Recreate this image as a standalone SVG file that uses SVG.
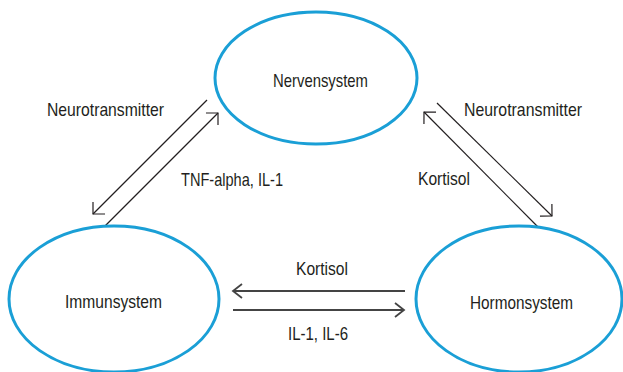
<svg xmlns="http://www.w3.org/2000/svg" width="623" height="372" viewBox="0 0 623 372">
<style>
.node{fill:#fff;stroke:#1a9fd6;stroke-width:3}
.lbl{font-family:"Liberation Sans",Arial,sans-serif;font-size:19px;fill:#231f20}
.diag{stroke:#231f20;stroke-width:1.2;fill:none}
.hor{stroke:#444;stroke-width:1.8;fill:none}
</style>
<defs>
<marker id="ad" markerUnits="userSpaceOnUse" markerWidth="24" markerHeight="24" refX="0" refY="0" viewBox="-12 -12 24 24" orient="auto" overflow="visible">
<path d="M-8.5,-8.5 L0,0 L-8.5,8.5" fill="none" stroke="#231f20" stroke-width="1.2"/>
</marker>
<marker id="ah" markerUnits="userSpaceOnUse" markerWidth="24" markerHeight="24" refX="0" refY="0" viewBox="-12 -12 24 24" orient="auto" overflow="visible">
<path d="M-9,-7 L0,0 L-9,7" fill="none" stroke="#444" stroke-width="1.8"/>
</marker>
</defs>
<g id="connectors">
<line class="diag" x1="207" y1="100" x2="93" y2="214" marker-end="url(#ad)"/>
<line class="diag" x1="105" y1="226" x2="218" y2="113" marker-end="url(#ad)"/>
<line class="diag" x1="437" y1="103" x2="552" y2="216" marker-end="url(#ad)"/>
<line class="diag" x1="538" y1="227" x2="424" y2="112" marker-end="url(#ad)"/>
<line class="hor" x1="405" y1="291" x2="233" y2="291" marker-end="url(#ah)"/>
<line class="hor" x1="233" y1="310" x2="404" y2="310" marker-end="url(#ah)"/>
<text class="lbl" x="47" y="116" textLength="117" lengthAdjust="spacingAndGlyphs">Neurotransmitter</text>
<text class="lbl" x="181" y="186" textLength="102" lengthAdjust="spacingAndGlyphs">TNF-alpha, IL-1</text>
<text class="lbl" x="464" y="116" textLength="118" lengthAdjust="spacingAndGlyphs">Neurotransmitter</text>
<text class="lbl" x="418" y="185" textLength="52" lengthAdjust="spacingAndGlyphs">Kortisol</text>
<text class="lbl" x="296" y="275" textLength="52" lengthAdjust="spacingAndGlyphs">Kortisol</text>
<text class="lbl" x="288" y="340" textLength="60" lengthAdjust="spacingAndGlyphs">IL-1, IL-6</text>
</g>
<g id="nervensystem">
<ellipse class="node" cx="316" cy="78" rx="101" ry="66"/>
<text class="lbl" x="273" y="87" textLength="95" lengthAdjust="spacingAndGlyphs">Nervensystem</text>
</g>
<g id="immunsystem">
<ellipse class="node" cx="114" cy="299" rx="105" ry="73"/>
<text class="lbl" x="65" y="308" textLength="97" lengthAdjust="spacingAndGlyphs">Immunsystem</text>
</g>
<g id="hormonsystem">
<ellipse class="node" cx="519" cy="299" rx="103" ry="73"/>
<text class="lbl" x="470" y="309" textLength="103" lengthAdjust="spacingAndGlyphs">Hormonsystem</text>
</g>
</svg>
